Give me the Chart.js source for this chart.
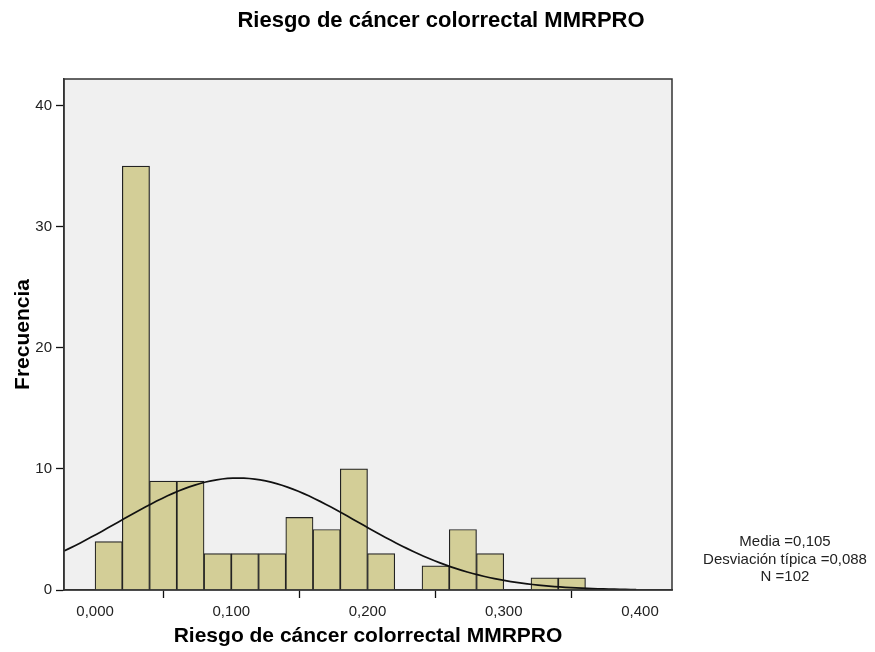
<!DOCTYPE html>
<html>
<head>
<meta charset="utf-8">
<script src="https://cdn.jsdelivr.net/npm/chart.js@4.4.0/dist/chart.umd.min.js"></script>
<style>
  html, body { margin: 0; padding: 0; background: #fff; }
  #wrap { width: 875px; height: 652px; }
</style>
</head>
<body>
<div id="wrap"><canvas id="hist"></canvas></div>
<script>
// limites de cada intervalo (inicio) y frecuencias
const binStart = [0.00, 0.02, 0.04, 0.06, 0.08, 0.10, 0.12, 0.14, 0.16, 0.18, 0.20, 0.22, 0.24, 0.26, 0.28, 0.30, 0.32, 0.34];
const frecuencia = [4, 35, 9, 9, 3, 3, 3, 6, 5, 10, 3, 0, 2, 5, 3, 0, 1, 1];
const binWidth = 0.02;

// estadisticos que muestra SPSS
const media = 0.105;
const desviacion = 0.088;
const nCasos = 102;

const xTicks = [0, 0.1, 0.2, 0.3, 0.4];
const yTicks = [0, 10, 20, 30, 40];
const titulo = "Riesgo de cáncer colorrectal MMRPRO";
const statsText = ["Media =0,105", "Desviación típica =0,088", "N =102"];

const xMin = -0.0228, xMax = 0.4235;
const yMax = 42.2;

// barras del histograma
const barras = binStart.map((b, i) => ({ x: b + binWidth / 2, y: frecuencia[i] }));

// curva normal con media, desviacion y N
const curva = [];
for (let x = xMin; x <= 0.4; x += 0.004) {
  const z = (x - media) / desviacion;
  const y = nCasos * binWidth * Math.exp(-0.5 * z * z) / (desviacion * Math.sqrt(2 * Math.PI));
  curva.push({ x: x, y: y });
}

const fondoPlot = {
  id: "fondoPlot",
  beforeDraw(chart) {
    const { ctx, chartArea: a } = chart;
    ctx.save();
    ctx.fillStyle = "#F0F0F0";
    ctx.fillRect(a.left, a.top, a.right - a.left, a.bottom - a.top);
    ctx.restore();
  },
  afterDraw(chart) {
    const { ctx, chartArea: a } = chart;
    ctx.save();
    ctx.strokeStyle = "#333";
    ctx.lineWidth = 1.5;
    ctx.strokeRect(a.left, a.top, a.right - a.left, a.bottom - a.top);
    // titulo centrado en toda la imagen
    ctx.fillStyle = "#000";
    ctx.font = "bold 22px 'Liberation Sans', Arial, sans-serif";
    ctx.textAlign = "center";
    ctx.textBaseline = "middle";
    ctx.fillText(titulo, 441, 21);
    // texto de estadisticos a la derecha
    ctx.fillStyle = "#222";
    ctx.font = "15px 'Liberation Sans', Arial, sans-serif";
    statsText.forEach((t, i) => ctx.fillText(t, 785, 542 + i * 17.5));
    ctx.restore();
  }
};

const tickFont = { family: "'Liberation Sans', Arial, sans-serif", size: 15 };

new Chart(document.getElementById("hist"), {
  type: "bar",
  data: {
    datasets: [
      {
        type: "line",
        data: curva,
        borderColor: "#111",
        borderWidth: 1.7,
        pointRadius: 0,
        tension: 0,
        fill: false,
        order: 0
      },
      {
        type: "bar",
        data: barras,
        backgroundColor: "#D3CE97",
        borderColor: "#222",
        borderWidth: 1.2,
        borderSkipped: "start",
        barPercentage: 1,
        categoryPercentage: 1,
        order: 1
      }
    ]
  },
  options: {
    responsive: true,
    maintainAspectRatio: false,
    animation: false,
    layout: { padding: { top: 79, right: 203, bottom: 0, left: 0 } },
    plugins: {
      legend: { display: false },
      tooltip: { enabled: false },
      title: { display: false }
    },
    scales: {
      x: {
        type: "linear",
        min: xMin,
        max: xMax,
        offset: false,
        afterBuildTicks: (s) => { s.ticks = xTicks.map((v) => ({ value: v })); },
        afterFit: (s) => { s.height = 62; },
        ticks: {
          color: "#222",
          font: tickFont,
          padding: 5,
          maxRotation: 0,
          callback: (v) => v.toFixed(3).replace(".", ",")
        },
        grid: { drawOnChartArea: false, drawTicks: true, tickLength: 8, color: "#111", tickWidth: 1.3 },
        border: { display: true, color: "#333", width: 1.5 },
        title: {
          display: true,
          text: titulo,
          color: "#000",
          font: { family: "'Liberation Sans', Arial, sans-serif", size: 21, weight: "bold" },
          padding: { top: 0, bottom: 3.4 }
        }
      },
      y: {
        min: 0,
        max: yMax,
        afterBuildTicks: (s) => { s.ticks = yTicks.map((v) => ({ value: v })); },
        afterFit: (s) => { s.width = 64; },
        ticks: { color: "#222", font: tickFont, padding: 4 },
        grid: { drawOnChartArea: false, drawTicks: true, tickLength: 8, color: "#111", tickWidth: 1.3 },
        border: { display: true, color: "#333", width: 1.5 },
        title: {
          display: true,
          text: "Frecuencia",
          color: "#000",
          font: { family: "'Liberation Sans', Arial, sans-serif", size: 21, weight: "bold" },
          padding: { top: 10.4, bottom: 0 }
        }
      }
    }
  },
  plugins: [fondoPlot]
});
</script>
</body>
</html>
